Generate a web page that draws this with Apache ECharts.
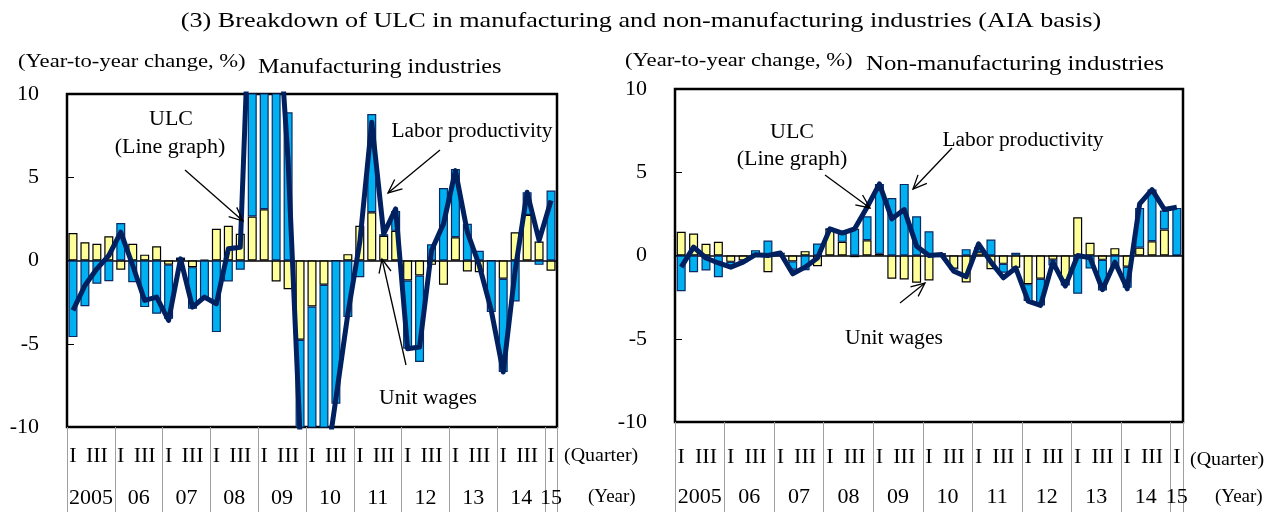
<!DOCTYPE html>
<html>
<head>
<meta charset="utf-8">
<script src="https://cdn.jsdelivr.net/npm/echarts@6/dist/echarts.min.js"></script>
<style>
  html, body { margin: 0; padding: 0; background: #fff; }
  #chart { width: 1283px; height: 512px; }
</style>
</head>
<body>
<div id="chart"></div>
<script>
// quarters 2005 Q1 .. 2015 Q1 (41 quarters)
const quarters = [
  "05Q1", "05Q2", "05Q3", "05Q4", "06Q1", "06Q2", "06Q3", "06Q4",
  "07Q1", "07Q2", "07Q3", "07Q4", "08Q1", "08Q2", "08Q3", "08Q4",
  "09Q1", "09Q2", "09Q3", "09Q4", "10Q1", "10Q2", "10Q3", "10Q4",
  "11Q1", "11Q2", "11Q3", "11Q4", "12Q1", "12Q2", "12Q3", "12Q4",
  "13Q1", "13Q2", "13Q3", "13Q4", "14Q1", "14Q2", "14Q3", "14Q4",
  "15Q1",
];
const quarterTicks = ["I", "", "III", ""];
const yearLabels = ["2005", "06", "07", "08", "09", "10", "11", "12", "13", "14", "15"];

// Manufacturing industries
const mfgWages = [
  1.65, 1.1, 1.0, 1.45, -0.55, 1.0, 0.35, 0.85, -0.25, 0.15, -0.4, 0.05,
  1.9, 2.08, 1.6, 2.64, 3.08, -1.26, -1.72, -4.76, -2.76, -1.46, 0, 0.38,
  2.08, 2.9, 1.48, 1.78, -1.2, -0.9, -0.26, -1.46, 1.4, -0.66, -0.7, 0,
  -1.1, 1.7, 2.74, 1.14, -0.62,
];
const mfgProductivity = [
  -4.6, -2.75, -1.4, -1.25, 2.25, -1.3, -2.8, -3.2, -3.25, 0, -2.5, -2.35,
  -4.3, -1.26, -0.56, 17.4, 22, 18.3, 8.9, -5.5, -11, -12, -8.6, -3.4,
  -1.0, 5.9, 0.1, 1.2, -4.1, -5.2, 0.98, 4.35, 4.1, 2.2, 0.58, -3.1,
  -5.6, -2.46, 1.36, -0.26, 4.2,
];
const mfgULC = [
  -3.0, -1.5, -0.5, 0.3, 1.7, -0.3, -2.4, -2.2, -3.6, 0.1, -2.8, -2.2,
  -2.6, 0.7, 0.8, 20, 25, 17, 6, -10.5, -14, -13.3, -8.3, -3.2,
  1.1, 8.3, 1.6, 3.1, -5.3, -5.2, 0.6, 2.2, 5.4, 1.7, -0.3, -3.0,
  -6.7, -0.6, 4.1, 1.2, 3.6,
];

// Non-manufacturing industries
const nonWages = [
  1.42, 1.32, 0.7, 0.82, -0.38, -0.3, 0, -1.0, 0.05, -0.35, 0.26, -0.64,
  1.6, 0.82, -0.1, 0.92, 0.1, -1.4, -1.44, -1.64, -1.5, -0.1, -0.8, -1.62,
  0.2, -0.82, -0.5, -0.74, -1.72, -1.4, -0.25, -1.5, 2.3, 0.76, -0.26, 0.44,
  -0.68, 0.47, 0.86, 1.56, 0,
];
const nonProductivity = [
  -2.14, -1.0, -0.9, -1.3, -0.3, -0.1, 0.32, 0.9, 0.12, -0.5, -0.88, 0.72,
  0, 0.48, 1.6, 1.44, 4.2, 3.45, 4.3, 2.36, 1.46, 0.15, 0, 0.38,
  0.3, 0.96, -0.54, 0.16, -1.02, -1.6, -0.35, -0.3, -2.3, -0.78, -1.84, -0.72,
  -1.26, 2.39, 3.1, 1.14, 2.86,
];
const nonULC = [
  -0.7, 0.5, -0.15, -0.45, -0.7, -0.4, 0.05, 0, 0.15, -1.1, -0.7, -0.15,
  1.6, 1.35, 1.6, 2.9, 4.3, 2.2, 2.76, 0.56, 0, 0.06, -0.95, -1.27,
  0.7, -0.4, -1.34, -0.75, -2.74, -3.0, -0.4, -1.84, 0, -0.14, -2.05, -0.4,
  -2.0, 3.1, 3.96, 2.76, 2.9,
];

const FONT = '"Liberation Serif", "Times New Roman", serif';

let myChart = echarts.init(document.getElementById("chart"));

function quarterLabel(v) {
  let h = Math.round(v * 2); // half-quarter steps
  if (h % 2 === 0) return "";
  let i = (h - 1) / 2;
  return quarterTicks[i % 4];
}
function yearLabel(v) {
  let h = Math.round(v * 2);
  if (h === 81) return yearLabels[10]; // 2015 Q1 only
  if (h % 8 === 4 && h < 80) return yearLabels[(h - 4) / 8];
  return "";
}

function makeXAxes(g, qMargin, yMargin) {
  return [
    {
      type: "category",
      gridIndex: g,
      data: quarters,
      axisLine: { onZero: true, lineStyle: { color: "#000", width: 1.5 } },
      axisTick: { show: false },
      axisLabel: { show: false },
    },
    {
      type: "value",
      gridIndex: g,
      position: "bottom",
      min: 0,
      max: 41,
      interval: 0.5,
      axisLine: { show: false, onZero: false },
      axisTick: { show: false },
      splitLine: { show: false },
      axisLabel: {
        margin: qMargin,
        formatter: quarterLabel,
        color: "#000",
        fontFamily: FONT,
        fontSize: 22,
      },
    },
    {
      type: "value",
      gridIndex: g,
      position: "bottom",
      min: 0,
      max: 41,
      interval: 0.5,
      axisLine: { show: false, onZero: false },
      axisTick: { show: false },
      splitLine: { show: false },
      axisLabel: {
        margin: yMargin,
        formatter: yearLabel,
        color: "#000",
        fontFamily: FONT,
        fontSize: 22,
      },
    },
    {
      // year separators below the plot
      type: "value",
      gridIndex: g,
      position: "bottom",
      min: 0,
      max: 41,
      interval: 4,
      axisLine: { show: false, onZero: false },
      axisTick: { show: true, length: 95, lineStyle: { color: "#a0a0a0", width: 1 } },
      splitLine: { show: false },
      axisLabel: { show: false },
    },
  ];
}

function makeYAxis(g) {
  return {
    type: "value",
    gridIndex: g,
    min: -10,
    max: 10,
    interval: 5,
    axisLine: { show: false, onZero: false },
    axisTick: { show: true, inside: true, length: 7, lineStyle: { color: "#000" } },
    splitLine: { show: false },
    axisLabel: { margin: 28, color: "#000", fontFamily: FONT, fontSize: 22 },
  };
}

function makeSeries(g, wages, prod, ulc) {
  return [
    {
      name: "Unit wages",
      type: "bar",
      xAxisIndex: g * 4,
      yAxisIndex: g,
      stack: "s" + g,
      barWidth: 9,
      data: wages,
      itemStyle: { color: "#FFFF99", borderColor: "#000", borderWidth: 1.2 },
    },
    {
      name: "Labor productivity",
      type: "bar",
      xAxisIndex: g * 4,
      yAxisIndex: g,
      stack: "s" + g,
      barWidth: 9,
      data: prod,
      itemStyle: { color: "#00B0F0", borderColor: "#0a2a66", borderWidth: 1.2 },
    },
    {
      name: "ULC",
      type: "line",
      xAxisIndex: g * 4,
      yAxisIndex: g,
      data: ulc,
      symbol: "none",
      z: 5,
      lineStyle: { color: "#002060", width: 5, join: "round" },
    },
  ];
}

// text with horizontal stretch (the source lettering is wide)
function txt(x, y, text, size, align, sx) {
  return {
    type: "text",
    x: x,
    y: y,
    scaleX: sx || 1,
    z: 20,
    style: {
      text: text,
      font: size + "px " + FONT,
      fill: "#000",
      textAlign: align || "center",
      textVerticalAlign: "middle",
    },
  };
}

function arrow(x1, y1, x2, y2) {
  let a = Math.atan2(y2 - y1, x2 - x1);
  let L = 15, s = 0.42;
  return [
    {
      type: "line",
      z: 20,
      shape: { x1: x1, y1: y1, x2: x2, y2: y2 },
      style: { stroke: "#000", lineWidth: 1.3 },
    },
    {
      type: "polyline",
      z: 20,
      shape: {
        points: [
          [x2 - L * Math.cos(a - s), y2 - L * Math.sin(a - s)],
          [x2, y2],
          [x2 - L * Math.cos(a + s), y2 - L * Math.sin(a + s)],
        ],
      },
      style: { stroke: "#000", lineWidth: 1.3, fill: null },
    },
  ];
}

let graphics = [
  txt(641, 21, "(3) Breakdown of ULC in manufacturing and non-manufacturing industries (AIA basis)", 22, "center", 1.19),
  // left panel
  txt(18, 62, "(Year-to-year change, %)", 19, "left", 1.19),
  txt(258, 67, "Manufacturing industries", 21, "left", 1.15),
  txt(171, 120, "ULC", 20, "center", 1.1),
  txt(170, 148, "(Line graph)", 20, "center", 1.1),
  txt(472, 132, "Labor productivity", 20, "center", 1.07),
  txt(428, 399, "Unit wages", 20, "center", 1.08),
  txt(564, 456, "(Quarter)", 19, "left", 1.05),
  txt(588, 497, "(Year)", 19, "left"),
  // right panel
  txt(625, 61, "(Year-to-year change, %)", 19, "left", 1.19),
  txt(866, 64, "Non-manufacturing industries", 21, "left", 1.18),
  txt(792, 133, "ULC", 20, "center", 1.1),
  txt(792, 160, "(Line graph)", 20, "center", 1.1),
  txt(1023, 141, "Labor productivity", 20, "center", 1.07),
  txt(894, 339, "Unit wages", 20, "center", 1.08),
  txt(1190, 460, "(Quarter)", 19, "left", 1.05),
  txt(1215, 497, "(Year)", 19, "left"),
]
  .concat(arrow(185, 170, 243, 221))
  .concat(arrow(440, 150, 388, 193))
  .concat(arrow(406, 365, 382, 259))
  .concat(arrow(825, 175, 870, 208))
  .concat(arrow(952, 148, 913, 189))
  .concat(arrow(900, 303, 925, 283));

let option = {
  animation: false,
  backgroundColor: "#fff",
  grid: [
    { left: 67, top: 94, width: 490, height: 333, show: true, borderColor: "#000", borderWidth: 2.5, backgroundColor: "#fff" },
    { left: 675, top: 89, width: 508, height: 333, show: true, borderColor: "#000", borderWidth: 2.5, backgroundColor: "#fff" },
  ],
  xAxis: makeXAxes(0, 18, 60).concat(makeXAxes(1, 24, 64)),
  yAxis: [makeYAxis(0), makeYAxis(1)],
  series: makeSeries(0, mfgWages, mfgProductivity, mfgULC).concat(
    makeSeries(1, nonWages, nonProductivity, nonULC)
  ),
  graphic: graphics,
};

myChart.setOption(option);
window.addEventListener("resize", function () {
  myChart.resize();
});
</script>
</body>
</html>
